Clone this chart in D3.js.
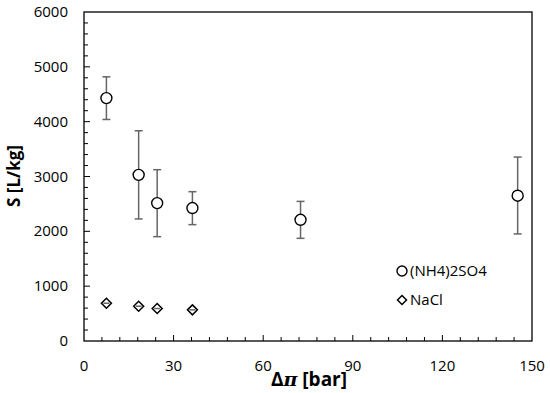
<!DOCTYPE html>
<html>
<head>
<meta charset="utf-8">
<script src="https://cdn.jsdelivr.net/npm/d3@7"></script>
<style>
  body { margin: 0; background: #fff; }
  text { font-family: "Open Sans", Lato, sans-serif; }
</style>
</head>
<body>
<svg id="chart" width="550" height="393"></svg>
<script>
// (NH4)2SO4 series
const ammX = [7.5, 18.3, 24.5, 36.3, 72.5, 145.2];
const ammY = [4430, 3030, 2515, 2425, 2210, 2650];
const ammLo = [4040, 2226, 1903, 2122, 1872, 1953];
const ammHi = [4818, 3834, 3124, 2723, 2546, 3355];

// NaCl series
const naclX = [7.5, 18.3, 24.5, 36.3];
const naclY = [689, 634, 592, 568];
const naclErr = [40, 40, 40, 40];

const xTicks = [0, 30, 60, 90, 120, 150];
const yTicks = [0, 1000, 2000, 3000, 4000, 5000, 6000];

const width = 550;
const height = 393;
const marginTop = 12;
const marginRight = 18;
const marginBottom = 52;
const marginLeft = 84;

const svg = d3.select("#chart");

const x = d3.scaleLinear()
    .domain([0, 150])
    .range([marginLeft, width - marginRight]);

const y = d3.scaleLinear()
    .domain([0, 6000])
    .range([height - marginBottom, marginTop]);

// Frame
svg.append("rect")
    .attr("x", marginLeft)
    .attr("y", marginTop)
    .attr("width", x(150) - marginLeft)
    .attr("height", y(0) - marginTop)
    .attr("fill", "none")
    .attr("stroke", "#000")
    .attr("stroke-width", 1.3);

// Minor ticks (inside)
svg.append("g")
    .selectAll("line")
    .data(d3.range(6, 150, 6))
    .join("line")
        .attr("x1", d => x(d))
        .attr("x2", d => x(d))
        .attr("y1", y(0))
        .attr("y2", d => y(0) - (d % 30 === 0 ? 6 : 4))
        .attr("stroke", "#000");

svg.append("g")
    .selectAll("line")
    .data(d3.range(200, 6000, 200))
    .join("line")
        .attr("x1", marginLeft)
        .attr("x2", d => marginLeft + (d % 1000 === 0 ? 6 : 4))
        .attr("y1", d => y(d))
        .attr("y2", d => y(d))
        .attr("stroke", "#000");

// Tick labels
svg.append("g")
    .selectAll("text")
    .data(xTicks)
    .join("text")
        .attr("x", d => x(d))
        .attr("y", 371)
        .attr("text-anchor", "middle")
        .style("font-size", "15px")
        .text(d => d);

svg.append("g")
    .selectAll("text")
    .data(yTicks)
    .join("text")
        .attr("x", 68)
        .attr("y", d => y(d) + 5)
        .attr("text-anchor", "end")
        .style("font-size", "15px")
        .text(d => d);

// Axis titles
const xTitle = svg.append("text")
    .attr("x", 309)
    .attr("y", 386)
    .attr("text-anchor", "middle")
    .style("font-size", "19px")
    .style("font-weight", "bold");
xTitle.append("tspan").text("Δ");
xTitle.append("tspan").style("font-style", "italic").style("font-family", "'DejaVu Serif', serif").text("π");
xTitle.append("tspan").text(" [bar]");

svg.append("text")
    .attr("transform", "translate(20,176) rotate(-90)")
    .attr("text-anchor", "middle")
    .style("font-size", "17px")
    .style("font-weight", "bold")
    .text("S  [L/kg]");

// Error bars
const errColor = "#666";
const amm = ammX.map((d, i) => ({ x: d, y: ammY[i], lo: ammLo[i], hi: ammHi[i] }));
const nacl = naclX.map((d, i) => ({ x: d, y: naclY[i], lo: naclY[i] - naclErr[i], hi: naclY[i] + naclErr[i] }));

function errorBars(data) {
    const g = svg.append("g")
        .attr("stroke", errColor)
        .attr("stroke-width", 1.5);
    g.selectAll(".v")
        .data(data)
        .join("line")
            .attr("x1", d => x(d.x))
            .attr("x2", d => x(d.x))
            .attr("y1", d => y(d.lo))
            .attr("y2", d => y(d.hi));
    g.selectAll(".lo")
        .data(data)
        .join("line")
            .attr("x1", d => x(d.x) - 4)
            .attr("x2", d => x(d.x) + 4)
            .attr("y1", d => y(d.lo))
            .attr("y2", d => y(d.lo));
    g.selectAll(".hi")
        .data(data)
        .join("line")
            .attr("x1", d => x(d.x) - 4)
            .attr("x2", d => x(d.x) + 4)
            .attr("y1", d => y(d.hi))
            .attr("y2", d => y(d.hi));
}

errorBars(amm);

svg.append("g")
    .selectAll("circle")
    .data(amm)
    .join("circle")
        .attr("cx", d => x(d.x))
        .attr("cy", d => y(d.y))
        .attr("r", 5.5)
        .attr("fill", "#fff")
        .attr("stroke", "#000")
        .attr("stroke-width", 1.4);

const diamond = "M0,-5L5,0L0,5L-5,0Z";

svg.append("g")
    .selectAll("path")
    .data(nacl)
    .join("path")
        .attr("d", diamond)
        .attr("transform", d => `translate(${x(d.x)},${y(d.y)})`)
        .attr("fill", "#fff")
        .attr("stroke", "#000")
        .attr("stroke-width", 1.5);

svg.append("g")
    .attr("stroke", errColor)
    .attr("stroke-width", 1.5)
    .selectAll("line")
    .data(nacl)
    .join("line")
        .attr("x1", d => x(d.x) - 3)
        .attr("x2", d => x(d.x) + 3)
        .attr("y1", d => y(d.y))
        .attr("y2", d => y(d.y));

// Legend
const legend = svg.append("g");
legend.append("circle")
    .attr("cx", 402)
    .attr("cy", 271)
    .attr("r", 5)
    .attr("fill", "#fff")
    .attr("stroke", "#000")
    .attr("stroke-width", 1.4);
legend.append("text")
    .attr("x", 410)
    .attr("y", 276)
    .style("font-size", "15px")
    .text("(NH4)2SO4");
legend.append("path")
    .attr("d", "M0,-4.5L4.5,0L0,4.5L-4.5,0Z")
    .attr("transform", "translate(402,300)")
    .attr("fill", "#fff")
    .attr("stroke", "#000")
    .attr("stroke-width", 1.5);
legend.append("text")
    .attr("x", 410)
    .attr("y", 305)
    .style("font-size", "15px")
    .text("NaCl");
</script>
</body>
</html>
